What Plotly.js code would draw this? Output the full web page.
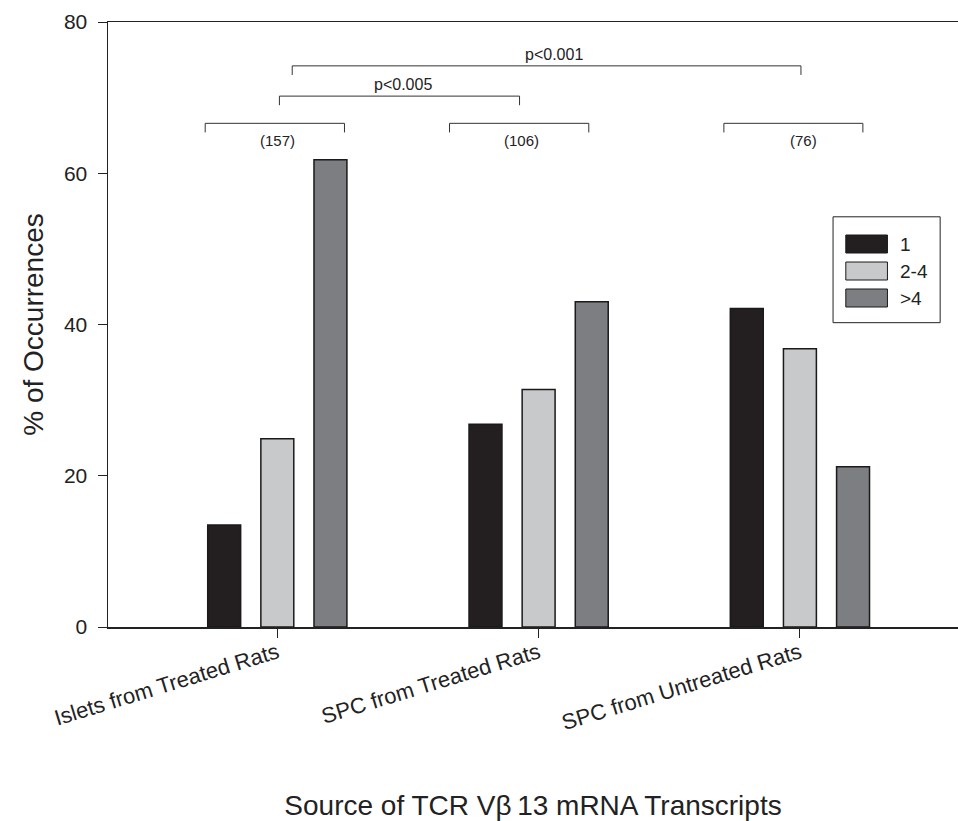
<!DOCTYPE html>
<html>
<head>
<meta charset="utf-8">
<script src="https://cdn.plot.ly/plotly-3.0.1.min.js"></script>
<style>html,body{margin:0;padding:0;background:#fff;}#chart{width:958px;height:821px;}</style>
</head>
<body>
<div id="chart"></div>
<script>
// ---- data ----
var categories = ["Islets from Treated Rats", "SPC from Treated Rats", "SPC from Untreated Rats"];
var seriesNames = ["1", "2-4", ">4"];
var values1 = [13.5, 26.8, 42.1];
var values2to4 = [24.9, 31.4, 36.8];
var valuesGt4 = [61.8, 43.0, 21.2];
var groupCounts = ["(157)", "(106)", "(76)"];
var pLabels = ["p<0.005", "p<0.001"];
var yTicks = [0, 20, 40, 60, 80];

// ---- styling ----
var colors = ["#231f20", "#c8c9cb", "#7d7e82"];
var font = "Liberation Sans, Arial, sans-serif";
var xIdx = [0, 1, 2];
var allVals = [values1, values2to4, valuesGt4];

var traces = allVals.map(function (v, i) {
  return {
    type: "bar", x: xIdx, y: v, name: seriesNames[i],
    marker: {color: colors[i], line: {color: "#1a1a1a", width: 1.5}},
    showlegend: false, hoverinfo: "y"
  };
});

// bracket geometry (data coords)
var groupBrackets = [[-0.276, 0.257], [0.659, 1.192], [1.709, 2.241]];
var countX = [0, 0.935, 2.015];
var pBrackets = [[0.008, 0.927], [0.057, 2.004]];
var pBracketY = [70.2, 74.2];
var pLabelX = [0.48, 1.06];

var shapes = [];
var annotations = [];
var bc = "#333";
groupBrackets.forEach(function (b, i) {
  shapes.push({type: "path", xref: "x", yref: "y",
    path: "M" + b[0] + ",65.4 L" + b[0] + ",66.6 L" + b[1] + ",66.6 L" + b[1] + ",65.4",
    line: {color: bc, width: 1}});
  annotations.push({x: countX[i], y: 64.3, xref: "x", yref: "y", text: groupCounts[i],
    showarrow: false, font: {family: font, size: 15, color: "#222"}});
});
pBrackets.forEach(function (b, i) {
  var yy = pBracketY[i];
  shapes.push({type: "path", xref: "x", yref: "y",
    path: "M" + b[0] + "," + (yy - 1.2) + " L" + b[0] + "," + yy + " L" + b[1] + "," + yy + " L" + b[1] + "," + (yy - 1.2),
    line: {color: bc, width: 1}});
  annotations.push({x: pLabelX[i], y: yy + 0.15, xref: "x", yref: "y", yanchor: "bottom", text: pLabels[i],
    showarrow: false, font: {family: font, size: 16, color: "#222"}});
});

// custom legend (paper coords)
shapes.push({type: "rect", xref: "paper", yref: "paper", x0: 0.853, x1: 0.979, y0: 0.503, y1: 0.678,
  line: {color: "#222", width: 1}, fillcolor: "#fff"});
var legRowsPx = [244, 271, 298];
seriesNames.forEach(function (n, i) {
  var yc = (627 - legRowsPx[i]) / 605;
  var h = 9 / 605;
  shapes.push({type: "rect", xref: "paper", yref: "paper", x0: 0.868, x1: 0.917, y0: yc - h, y1: yc + h,
    fillcolor: colors[i], line: {color: "#1a1a1a", width: 1}});
  annotations.push({x: 0.929, y: yc, xref: "paper", yref: "paper", xanchor: "left", yanchor: "middle",
    text: n, showarrow: false, font: {family: font, size: 19, color: "#222"}});
});

var layout = {
  width: 958, height: 821,
  margin: {l: 108, r: 0, t: 22, b: 194},
  paper_bgcolor: "#fff", plot_bgcolor: "#fff",
  barmode: "group", bargap: 0.39, bargroupgap: 0.38,
  font: {family: font, color: "#222"},
  xaxis: {
    range: [-0.648, 2.605], tickvals: xIdx, ticktext: categories, tickangle: -17,
    ticks: "outside", ticklen: 9, tickcolor: "#222", showline: true, linecolor: "#222", linewidth: 1.5,
    mirror: true, showgrid: false, zeroline: false, ticklabelstandoff: -6,
    tickfont: {family: font, size: 22, color: "#222"},
    title: {text: "Source of TCR V\u03b2\u200913 mRNA Transcripts", font: {family: font, size: 28, color: "#222"}, standoff: 64}
  },
  yaxis: {
    range: [0, 80], tickvals: yTicks, ticks: "outside", ticklen: 9, tickcolor: "#222",
    showline: true, linecolor: "#222", linewidth: 1.5, showgrid: false, zeroline: false,
    ticklabelstandoff: 6,
    tickfont: {family: font, size: 21, color: "#222"},
    title: {text: "% of Occurrences", font: {family: font, size: 28, color: "#222"}, standoff: 12}
  },
  shapes: shapes, annotations: annotations
};

Plotly.newPlot("chart", traces, layout, {displayModeBar: false, staticPlot: true});
</script>
</body>
</html>
